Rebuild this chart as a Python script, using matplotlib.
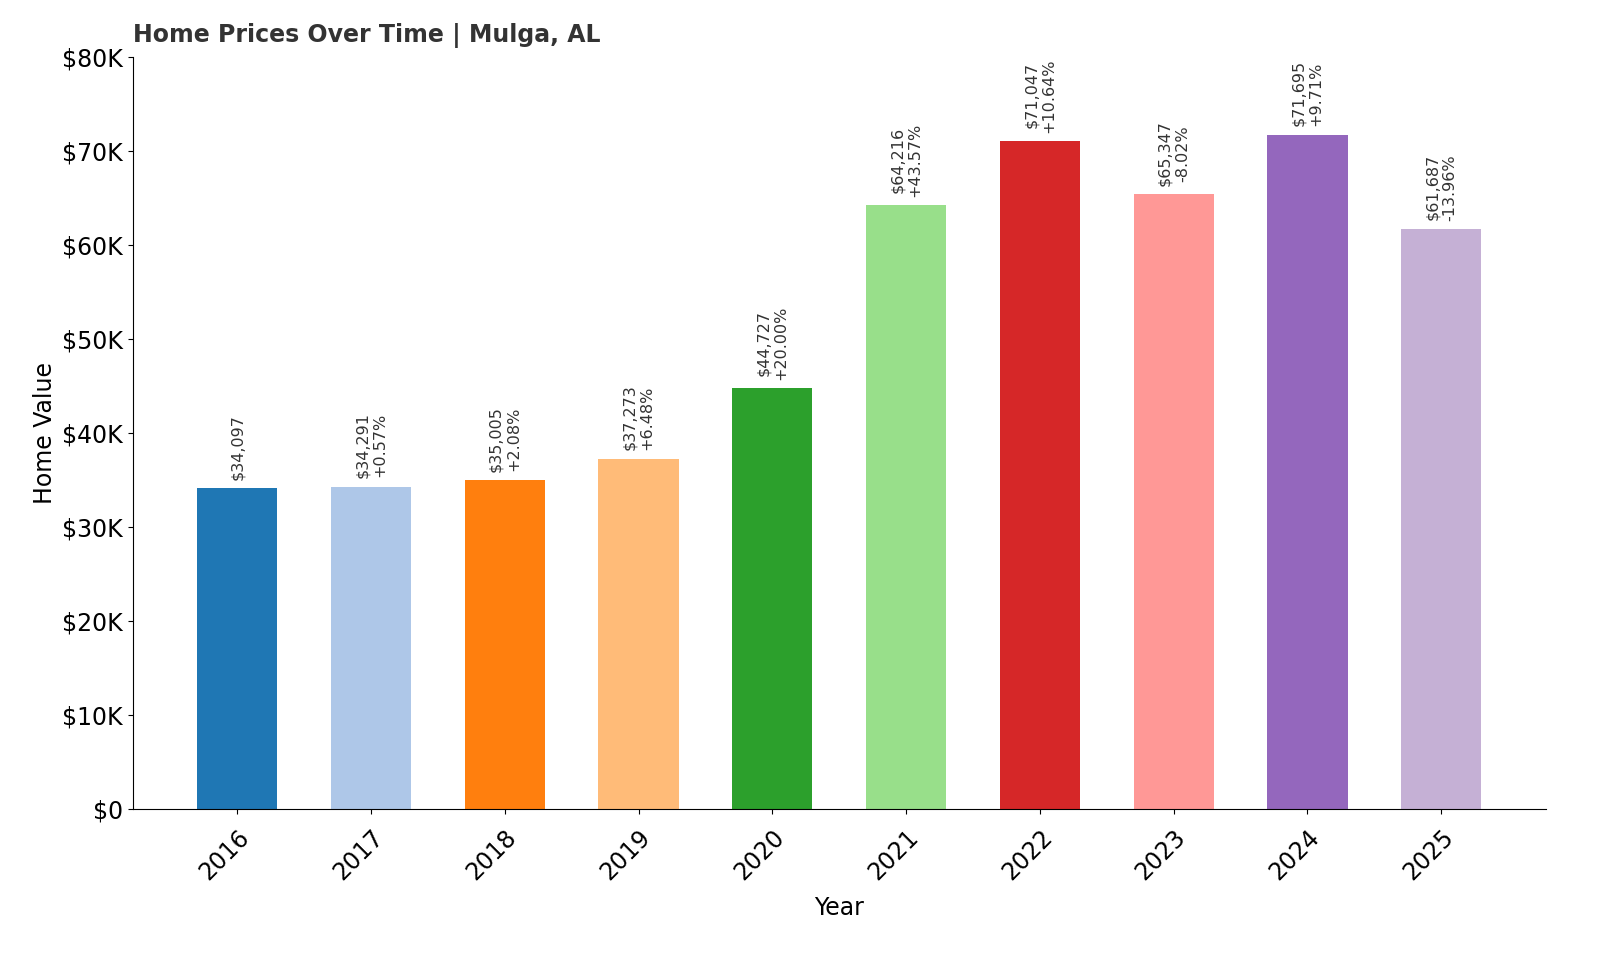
import matplotlib
matplotlib.use("Agg")
import matplotlib.pyplot as plt
from matplotlib.ticker import FuncFormatter

years = ["2016","2017","2018","2019","2020","2021","2022","2023","2024","2025"]
values = [34097,34291,35005,37273,44727,64216,71047,65347,71695,61687]
changes = [None,"+0.57%","+2.08%","+6.48%","+20.00%","+43.57%","+10.64%","-8.02%","+9.71%","-13.96%"]
colors = ["#1f77b4","#aec7e8","#ff7f0e","#ffbb78","#2ca02c","#98df8a","#d62728","#ff9896","#9467bd","#c5b0d5"]

fig = plt.figure(figsize=(16,9.6), dpi=100)
ax = fig.add_axes([0.083,0.157,0.883,0.784])
x = list(range(len(years)))
ax.bar(x, values, width=0.6, color=colors)
for xi, v, c in zip(x, values, changes):
    txt = f"${v:,}" if c is None else f"${v:,}\n{c}"
    ax.annotate(txt, (xi, v), xytext=(0,6), textcoords="offset points",
                rotation=90, ha="center", va="bottom", fontsize=11.5, color="#333333")
ax.set_xlim(-0.78, 9.78)
ax.set_ylim(0, 80000)
ax.set_xticks(x)
ax.set_xticklabels(years, rotation=45, ha="right", rotation_mode="anchor", fontsize=17)
ax.yaxis.set_major_formatter(FuncFormatter(lambda v, p: "$0" if v == 0 else f"${int(v/1000)}K"))
ax.tick_params(axis="y", labelsize=17)
ax.tick_params(axis="x", pad=8)
ax.set_xlabel("Year", fontsize=17, labelpad=8)
ax.set_ylabel("Home Value", fontsize=17)
ax.spines["top"].set_visible(False)
ax.spines["right"].set_visible(False)
fig.text(0.083, 0.95, "Home Prices Over Time | Mulga, AL", fontsize=17, fontweight="bold", color="#333333", ha="left", va="bottom")
fig.savefig("out.png", dpi=100)
